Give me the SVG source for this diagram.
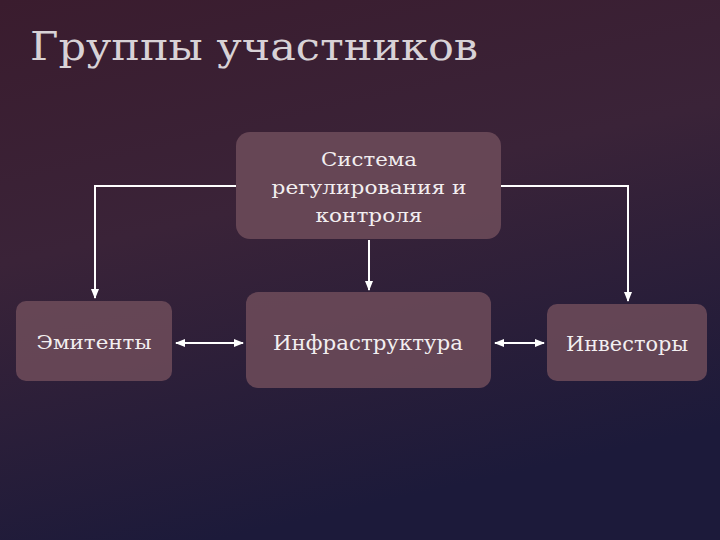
<svg xmlns="http://www.w3.org/2000/svg" width="720" height="540" viewBox="0 0 720 540">
<defs>
<linearGradient id="bg" x1="0" y1="0" x2="0.3" y2="1">
<stop offset="0" stop-color="#3a1c2e"/>
<stop offset="0.45" stop-color="#3a2338"/>
<stop offset="1" stop-color="#1c1a3a"/>
</linearGradient>
<marker id="ah" markerWidth="10" markerHeight="10" refX="9" refY="5" orient="auto-start-reverse" markerUnits="userSpaceOnUse">
<path d="M0,1 L10,5 L0,9 Z" fill="#ffffff"/>
</marker>
<style>
.box{fill:#6e4c5a;fill-opacity:0.85}
.t{font-family:"DejaVu Serif","Liberation Serif",serif;fill:#f2eef0;text-anchor:middle}
.c{stroke:#ffffff;stroke-width:2;fill:none}
</style>
</defs>
<rect width="720" height="540" fill="url(#bg)"/>
<text x="30" y="60" font-family="DejaVu Serif,Liberation Serif,serif" font-size="40" fill="#d8d2d6" textLength="448" lengthAdjust="spacingAndGlyphs">Группы участников</text>
<g id="connectors">
<path class="c" d="M236,186 H95 V298" marker-end="url(#ah)"/>
<path class="c" d="M501,186 H628 V301" marker-end="url(#ah)"/>
<path class="c" d="M369,240 V290" marker-end="url(#ah)"/>
<path class="c" d="M176,343 H243" marker-start="url(#ah)" marker-end="url(#ah)"/>
<path class="c" d="M495,343 H544" marker-start="url(#ah)" marker-end="url(#ah)"/>
</g>
<g id="sistema">
<rect class="box" x="236" y="132" width="265" height="107" rx="14"/>
<text class="t" font-size="19" x="369" y="166" textLength="96" lengthAdjust="spacingAndGlyphs">Система</text>
<text class="t" font-size="19" x="369" y="194" textLength="195" lengthAdjust="spacingAndGlyphs">регулирования и</text>
<text class="t" font-size="19" x="369" y="222" textLength="107" lengthAdjust="spacingAndGlyphs">контроля</text>
</g>
<g id="emitenty">
<rect class="box" x="16" y="301" width="156" height="80" rx="10"/>
<text class="t" font-size="19" x="94" y="349" textLength="115" lengthAdjust="spacingAndGlyphs">Эмитенты</text>
</g>
<g id="infra">
<rect class="box" x="246" y="292" width="245" height="96" rx="12"/>
<text class="t" font-size="21" x="368" y="350" textLength="190" lengthAdjust="spacingAndGlyphs">Инфраструктура</text>
</g>
<g id="investory">
<rect class="box" x="547" y="304" width="160" height="77" rx="10"/>
<text class="t" font-size="21" x="627" y="351" textLength="122" lengthAdjust="spacingAndGlyphs">Инвесторы</text>
</g>
</svg>
